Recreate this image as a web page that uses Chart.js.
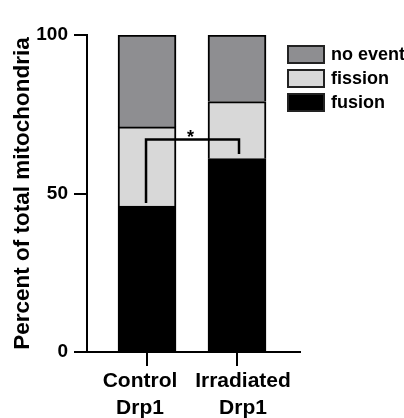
<!DOCTYPE html>
<html>
<head>
<meta charset="utf-8">
<script src="https://cdn.jsdelivr.net/npm/chart.js@4"></script>
<style>
html, body { margin: 0; padding: 0; background: #fff; }
#wrap { width: 404px; height: 418px; position: relative; }
</style>
</head>
<body>
<div id="wrap"><canvas id="chart"></canvas></div>
<script>
var categories = [['Control', 'Drp1'], ['Irradiated', 'Drp1']];
var fusion = [46, 61];
var fission = [25, 18];
var noEvent = [29, 21];
var yTicks = [0, 50, 100];
// significance bracket, in percent: left foot, top, right foot
var bracketY = [47, 67, 62.5];
var sigLabel = '*';

var FONT = "'Liberation Sans', Arial, Helvetica, sans-serif";
// the category labels sit a little apart from their tick marks
var labelNudge = [-7, 6];

// legend drawn as boxes at top right, top series first
var boxLegend = {
	id: 'boxLegend',
	afterDraw: function(chart) {
		var ctx = chart.ctx;
		var sets = chart.data.datasets.slice().reverse();
		ctx.save();
		ctx.font = 'bold 18px ' + FONT;
		ctx.textBaseline = 'middle';
		ctx.textAlign = 'left';
		sets.forEach(function(ds, i) {
			var top = 46 + i * 24;
			ctx.fillStyle = ds.backgroundColor;
			ctx.fillRect(288, top, 36, 17);
			ctx.strokeStyle = '#222';
			ctx.lineWidth = 2;
			ctx.strokeRect(288, top, 36, 17);
			ctx.fillStyle = '#000';
			ctx.fillText(ds.label, 331, top + 9);
		});
		ctx.restore();
	}
};

var nudgeLabels = {
	id: 'nudgeLabels',
	beforeDraw: function(chart) {
		var items = chart.scales.x.getLabelItems(chart.chartArea);
		items.forEach(function(it, i) {
			it.options.translation[0] += labelNudge[i] || 0;
		});
	}
};

var bracket = {
	id: 'bracket',
	afterDatasetsDraw: function(chart) {
		var ctx = chart.ctx;
		var xs = chart.scales.x, ys = chart.scales.y;
		var x0 = xs.getPixelForValue(0) - 1;
		var x1 = xs.getPixelForValue(1) + 2;
		var yL = ys.getPixelForValue(bracketY[0]);
		var yT = ys.getPixelForValue(bracketY[1]);
		var yR = ys.getPixelForValue(bracketY[2]);
		ctx.save();
		ctx.strokeStyle = '#000';
		ctx.lineWidth = 2.5;
		ctx.beginPath();
		ctx.moveTo(x0, yL);
		ctx.lineTo(x0, yT);
		ctx.lineTo(x1, yT);
		ctx.lineTo(x1, yR);
		ctx.stroke();
		ctx.fillStyle = '#000';
		ctx.font = 'bold 18px ' + FONT;
		ctx.textAlign = 'center';
		ctx.textBaseline = 'alphabetic';
		ctx.fillText(sigLabel, (x0 + x1) / 2 - 2, yT + 3);
		ctx.restore();
	}
};

var config = {
	type: 'bar',
	data: {
		labels: categories,
		datasets: [{
			label: 'fusion',
			backgroundColor: '#000000',
			data: fusion
		}, {
			label: 'fission',
			backgroundColor: '#d8d8d8',
			data: fission
		}, {
			label: 'no event',
			backgroundColor: '#8e8e91',
			data: noEvent
		}]
	},
	options: {
		responsive: true,
		maintainAspectRatio: false,
		animation: false,
		layout: { padding: { top: 35, right: 104, left: 0, bottom: 0 } },
		datasets: {
			bar: {
				borderColor: '#000',
				borderWidth: 2,
				barThickness: 58
			}
		},
		plugins: {
			legend: { display: false },
			tooltip: { enabled: false }
		},
		scales: {
			x: {
				stacked: true,
				grid: {
					offset: false,
					drawOnChartArea: false,
					drawTicks: true,
					tickLength: 14,
					color: '#000',
					lineWidth: 2
				},
				border: { display: true, color: '#000', width: 2 },
				ticks: {
					color: '#000',
					padding: 2,
					maxRotation: 0,
					autoSkip: false,
					font: { family: FONT, size: 21, weight: 'bold', lineHeight: 1.27 }
				},
				// place the two bars closer than the default category spacing
				afterBuildTicks: function(s) {
					s._startValue = -0.667;
					s._valueRange = 2.367;
				},
				afterFit: function(s) { s.height = 66; }
			},
			y: {
				stacked: true,
				min: 0,
				max: 100,
				afterBuildTicks: function(s) {
					s.ticks = yTicks.map(function(v) { return { value: v }; });
				},
				grid: {
					drawOnChartArea: false,
					drawTicks: true,
					tickLength: 13,
					color: '#000',
					lineWidth: 2
				},
				border: { display: true, color: '#000', width: 2 },
				ticks: {
					color: '#000',
					padding: 6,
					font: { family: FONT, size: 19, weight: 'bold' }
				},
				title: {
					display: true,
					text: 'Percent of total mitochondria',
					color: '#000',
					padding: { top: 9, bottom: 0 },
					font: { family: FONT, size: 22.5, weight: 'bold' }
				},
				afterFit: function(s) { s.width = 87; }
			}
		}
	},
	plugins: [nudgeLabels, bracket, boxLegend]
};

window.onload = function() {
	window.myBar = new Chart(document.getElementById('chart'), config);
};
</script>
</body>
</html>
